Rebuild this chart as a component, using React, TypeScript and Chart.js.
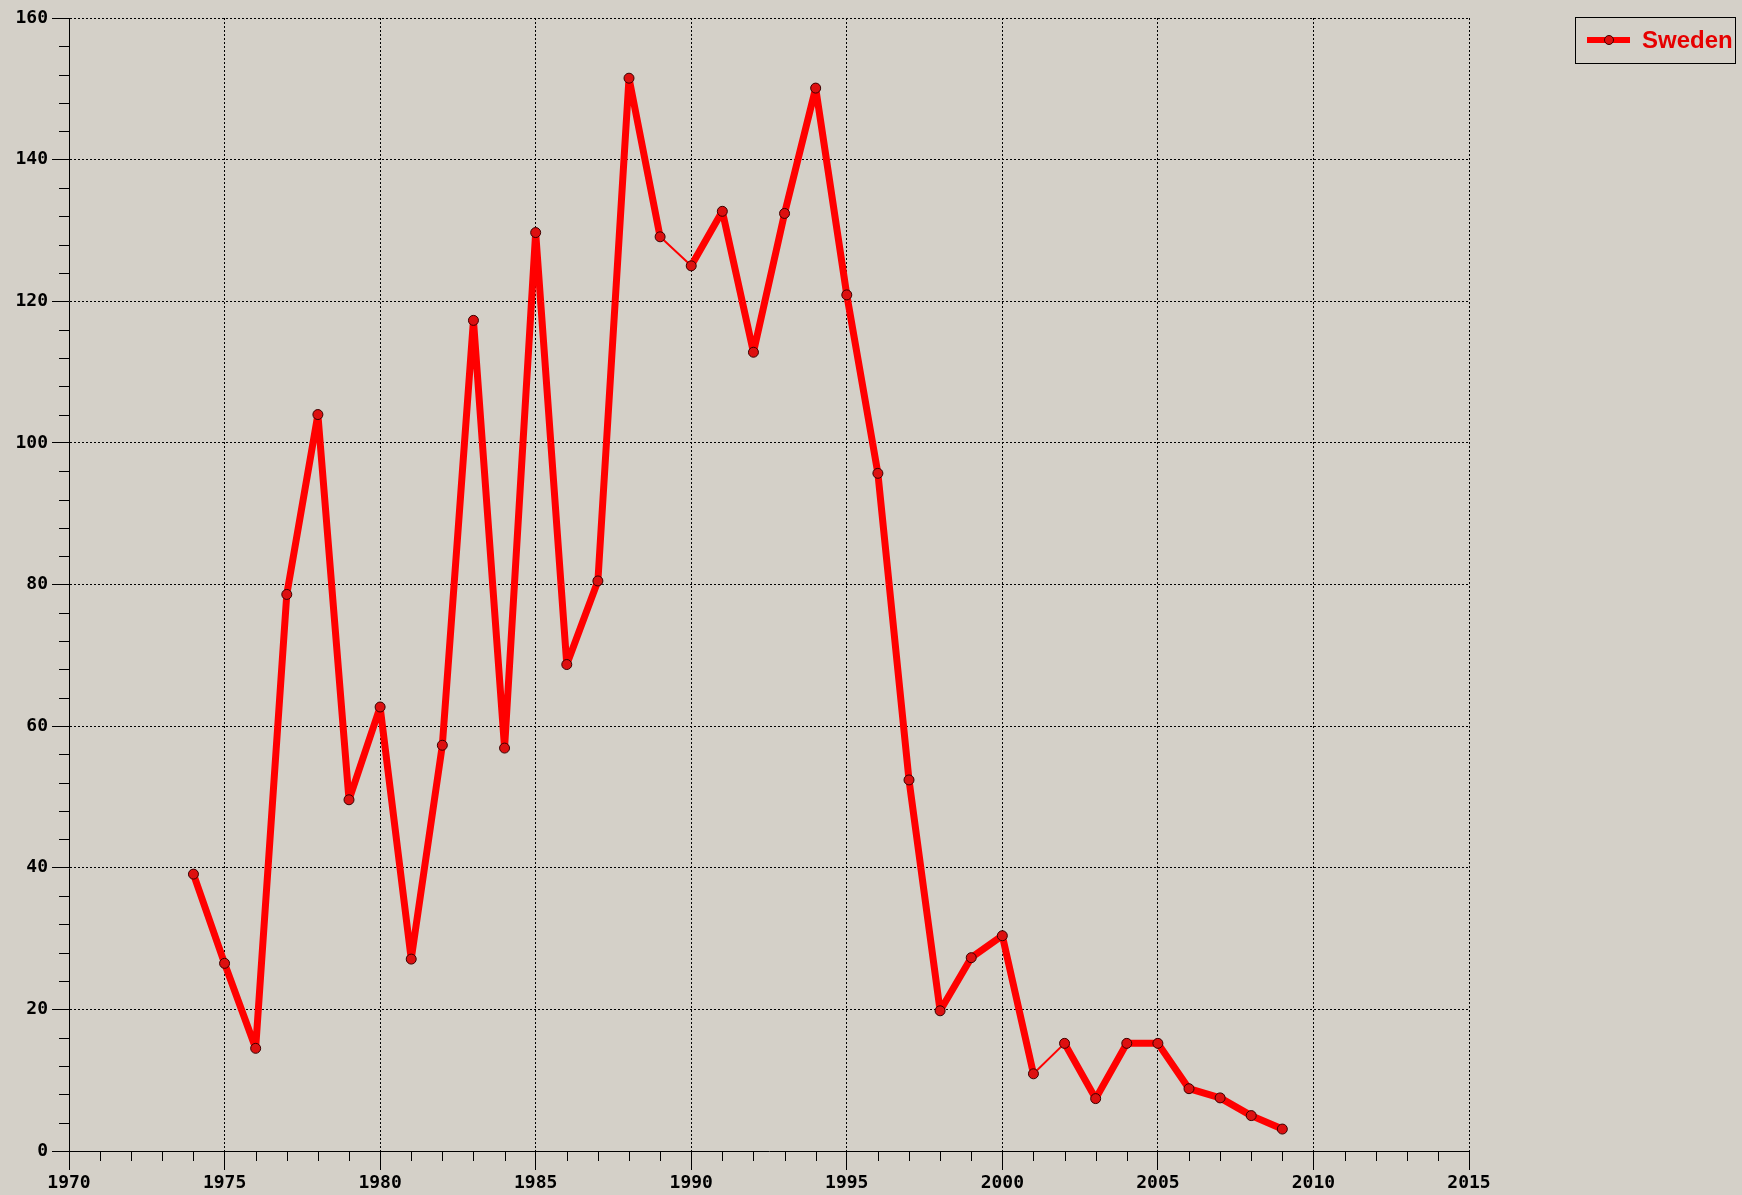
import React, { useEffect, useRef } from "react";
import { Chart, registerables } from "chart.js";

Chart.register(...registerables);

const seriesLabel = "Sweden";
const years = [
  1974, 1975, 1976, 1977, 1978, 1979, 1980, 1981, 1982, 1983, 1984, 1985,
  1986, 1987, 1988, 1989, 1990, 1991, 1992, 1993, 1994, 1995, 1996, 1997,
  1998, 1999, 2000, 2001, 2002, 2003, 2004, 2005, 2006, 2007, 2008, 2009,
];
const sweden = [
  39.1, 26.5, 14.5, 78.6, 104.0, 49.6, 62.7, 27.1, 57.3, 117.3, 56.9, 129.7,
  68.7, 80.5, 151.5, 129.1, 125.0, 132.7, 112.8, 132.4, 150.1, 120.9, 95.7, 52.4,
  19.8, 27.3, 30.4, 10.9, 15.2, 7.4, 15.2, 15.2, 8.8, 7.5, 5.0, 3.1,
];
const xTickMin = 1970;
const xTickMax = 2015;
const xMajorStep = 5;
const xMinorStep = 1;
const yTickMin = 0;
const yTickMax = 160;
const yMajorStep = 20;
const yMinorStep = 4;
const thinSegmentStarts = [1989, 2001];

const BG = "#D4D0C8";
const LINE_RED = "#ff0000";
const tickFont = { family: "'DejaVu Sans Mono', monospace", size: 18, weight: "bold" as const };

const minorTicksPlugin = {
  id: "minorTicks",
  afterDraw(chart: any) {
    const { ctx } = chart;
    const xs = chart.scales.x;
    const ys = chart.scales.y;
    const area = chart.chartArea;
    ctx.save();
    ctx.strokeStyle = "#000";
    ctx.lineWidth = 1;
    ctx.beginPath();
    for (let v = xTickMin; v <= xTickMax; v += xMinorStep) {
      if ((v - xTickMin) % xMajorStep === 0) continue;
      const px = Math.round(xs.getPixelForValue(v)) + 0.5;
      ctx.moveTo(px, area.bottom);
      ctx.lineTo(px, area.bottom + 10);
    }
    for (let v = yTickMin; v <= yTickMax; v += yMinorStep) {
      if ((v - yTickMin) % yMajorStep === 0) continue;
      const py = Math.round(ys.getPixelForValue(v)) + 0.5;
      ctx.moveTo(area.left, py);
      ctx.lineTo(area.left - 10, py);
    }
    ctx.stroke();
    ctx.restore();
  },
};

const legendBoxPlugin = {
  id: "legendBox",
  afterDraw(chart: any) {
    const { ctx, width } = chart;
    const ds = chart.data.datasets[0];
    const right = width - 7;
    const left = right - 160;
    const top = 17;
    const bottom = 63;
    const cy = (top + bottom) / 2;
    ctx.save();
    ctx.strokeStyle = "#000";
    ctx.lineWidth = 1;
    ctx.strokeRect(left + 0.5, top + 0.5, right - left, bottom - top);
    ctx.strokeStyle = ds.borderColor;
    ctx.lineWidth = 6;
    ctx.beginPath();
    ctx.moveTo(left + 12, cy);
    ctx.lineTo(left + 55, cy);
    ctx.stroke();
    ctx.beginPath();
    ctx.arc(left + 34, cy, 4.5, 0, Math.PI * 2);
    ctx.fillStyle = ds.pointBackgroundColor;
    ctx.fill();
    ctx.lineWidth = 1;
    ctx.strokeStyle = ds.pointBorderColor;
    ctx.stroke();
    ctx.fillStyle = "#e60000";
    ctx.font = "bold 24px 'Liberation Sans', Arial, sans-serif";
    ctx.textBaseline = "middle";
    ctx.textAlign = "left";
    ctx.fillText(ds.label, left + 67, cy + 1);
    ctx.restore();
  },
};

export default function App() {
  const canvasRef = useRef<HTMLCanvasElement | null>(null);

  useEffect(() => {
    if (!canvasRef.current) return;
    const chart = new Chart(canvasRef.current, {
      type: "line",
      data: {
        datasets: [
          {
            label: seriesLabel,
            data: years.map((y, i) => ({ x: y, y: sweden[i] })),
            borderColor: LINE_RED,
            borderWidth: 7,
            borderJoinStyle: "round",
            borderCapStyle: "round",
            tension: 0,
            pointRadius: 5,
            pointBackgroundColor: "#dd1010",
            pointBorderColor: "#3a0000",
            pointBorderWidth: 1,
            segment: {
              borderWidth: (c: any) =>
                thinSegmentStarts.includes(c.p0.parsed.x) ? 2 : 7,
            },
          } as any,
        ],
      },
      options: {
        animation: false,
        responsive: true,
        maintainAspectRatio: false,
        layout: { padding: { left: 0, top: 18, right: 273, bottom: 0 } },
        plugins: {
          legend: { display: false },
          tooltip: { enabled: false },
        },
        scales: {
          x: {
            type: "linear",
            min: xTickMin,
            max: xTickMax,
            afterFit: (s: any) => {
              s.height = 44;
            },
            ticks: {
              stepSize: xMajorStep,
              color: "#000",
              font: tickFont,
              padding: 3,
              maxRotation: 0,
              autoSkip: false,
              callback: (v: any) => String(v),
            },
            grid: {
              color: "#000",
              lineWidth: 1,
              tickLength: 19,
              tickColor: "#000",
              tickWidth: 1,
              drawTicks: true,
            },
            border: { display: true, color: "#000", width: 1, dash: [2, 2] },
          },
          y: {
            type: "linear",
            min: yTickMin,
            max: yTickMax,
            afterFit: (s: any) => {
              s.width = 69;
            },
            ticks: {
              stepSize: yMajorStep,
              color: "#000",
              font: tickFont,
              padding: 4,
              autoSkip: false,
              callback: (v: any) => String(v),
            },
            grid: {
              color: "#000",
              lineWidth: 1,
              tickLength: 17,
              tickColor: "#000",
              tickWidth: 1,
              drawTicks: true,
            },
            border: { display: true, color: "#000", width: 1, dash: [2, 2] },
          },
        },
      },
      plugins: [minorTicksPlugin, legendBoxPlugin],
    });
    return () => chart.destroy();
  }, []);

  return (
    <div
      style={{
        position: "fixed",
        left: 0,
        top: 0,
        width: "1742px",
        height: "1195px",
        background: BG,
      }}
    >
      <canvas ref={canvasRef} />
    </div>
  );
}
